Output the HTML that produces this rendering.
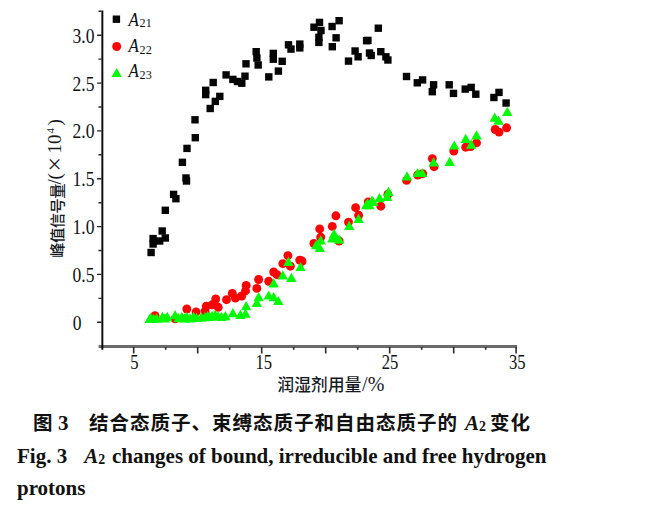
<!DOCTYPE html>
<html lang="zh"><head><meta charset="utf-8"><title>Fig. 3</title>
<style>
html,body{margin:0;padding:0;background:#fff;}
body{width:667px;height:515px;overflow:hidden;position:relative;font-family:"Liberation Serif","Noto Sans CJK SC",serif;color:#111;}
svg{position:absolute;left:0;top:0;}
.tk{font-family:"Liberation Serif",serif;font-size:20.5px;fill:#111;}
.cj{font-family:"Liberation Serif","Noto Sans CJK SC",sans-serif;fill:#16191f;font-weight:500;}
.cap{position:absolute;left:17px;white-space:nowrap;font-weight:bold;color:#111;}
.cap1{top:410.5px;left:0;font-size:19.5px;letter-spacing:1px;line-height:26px;font-family:"Liberation Serif","Noto Sans CJK SC",sans-serif;}
.cap2{top:444px;font-size:21px;font-family:"Liberation Serif",serif;}
.cap3{top:476px;font-size:21px;font-family:"Liberation Serif",serif;}
.cap1 span{position:absolute;top:0;}
.cap1 span.lt{font-family:"Liberation Serif",serif;font-size:21px;letter-spacing:0;top:-0.5px;}
.cap sub{font-size:0.66em;vertical-align:baseline;position:relative;top:0.09em;}
.cap i{font-style:italic;}
</style></head><body>
<svg width="667" height="515" viewBox="0 0 667 515">
<path d="M98.6 346.5H517.1" fill="none" stroke="#6a6a6a" stroke-width="2.8"/><path d="M102.35 10.6V349.8" fill="none" stroke="#0a0a0a" stroke-width="1.95"/>
<path d="M101.5 322.3h-4.4M101.5 298.4h-3M101.5 274.4h-4.4M101.5 250.5h-3M101.5 226.6h-4.4M101.5 202.7h-3M101.5 178.8h-4.4M101.5 154.8h-3M101.5 130.9h-4.4M101.5 107.0h-3M101.5 83.1h-4.4M101.5 59.1h-3M101.5 35.2h-4.4M101.5 11.3h-3" fill="none" stroke="#222" stroke-width="1.4"/><path d="M133.7 347V353.5M165.7 347V349.8M197.7 347V353.5M229.7 347V349.8M261.7 347V353.5M293.7 347V349.8M325.7 347V353.5M357.7 347V349.8M389.7 347V353.5M421.7 347V349.8M453.7 347V353.5M485.7 347V349.8M516.1 347V353.5" fill="none" stroke="#2c2c2c" stroke-width="1.6"/>
<g class="tk"><text transform="translate(72.7,329.8) scale(0.855,1)">0</text><text transform="translate(94.4,281.9) scale(0.855,1)" text-anchor="end">0.5</text><text transform="translate(94.4,234.1) scale(0.855,1)" text-anchor="end">1.0</text><text transform="translate(94.4,186.2) scale(0.855,1)" text-anchor="end">1.5</text><text transform="translate(94.4,138.4) scale(0.855,1)" text-anchor="end">2.0</text><text transform="translate(94.4,90.6) scale(0.855,1)" text-anchor="end">2.5</text><text transform="translate(94.4,42.7) scale(0.855,1)" text-anchor="end">3.0</text><text transform="translate(134.3,369) scale(0.83,1)" font-size="20" text-anchor="middle">5</text><text transform="translate(263.8,369) scale(0.83,1)" font-size="20" text-anchor="middle">15</text><text transform="translate(390.1,369) scale(0.83,1)" font-size="20" text-anchor="middle">25</text><text transform="translate(517.3,369) scale(0.83,1)" font-size="20" text-anchor="middle">35</text></g>
<text class="cj" font-size="15.3" letter-spacing="-0.55" transform="translate(62.6,257.8) rotate(-90)">峰值信号量<tspan font-size="19" x="73.4" dy="-1.6" letter-spacing="0">/</tspan><tspan font-size="19" x="78.4">(</tspan><tspan font-size="26" x="86.3" dy="1.8">×</tspan><tspan font-size="19" x="104.3" dy="-1.8" letter-spacing="0">10</tspan><tspan font-size="11" x="124.3" dy="-7">4</tspan><tspan font-size="19" x="132.4" dy="7">)</tspan></text>
<text class="cj" font-size="16.6" x="277.5" y="391.3" letter-spacing="0.2">润湿剂用量<tspan font-size="20" dx="0.5">/%</tspan></text>
<g fill="#050505"><rect x="147.4" y="248.8" width="7.4" height="7.4"/><rect x="149.4" y="240.3" width="7.4" height="7.4"/><rect x="149.4" y="234.9" width="7.4" height="7.4"/><rect x="156.0" y="237.3" width="7.4" height="7.4"/><rect x="161.6" y="234.3" width="7.4" height="7.4"/><rect x="158.5" y="227.3" width="7.4" height="7.4"/><rect x="161.6" y="206.6" width="7.4" height="7.4"/><rect x="169.9" y="190.7" width="7.4" height="7.4"/><rect x="172.2" y="195.0" width="7.4" height="7.4"/><rect x="182.3" y="174.3" width="7.4" height="7.4"/><rect x="182.8" y="177.3" width="7.4" height="7.4"/><rect x="178.7" y="158.6" width="7.4" height="7.4"/><rect x="183.3" y="144.7" width="7.4" height="7.4"/><rect x="191.6" y="134.0" width="7.4" height="7.4"/><rect x="191.3" y="116.1" width="7.4" height="7.4"/><rect x="206.5" y="104.8" width="7.4" height="7.4"/><rect x="211.6" y="97.7" width="7.4" height="7.4"/><rect x="216.1" y="92.7" width="7.4" height="7.4"/><rect x="202.0" y="90.9" width="7.4" height="7.4"/><rect x="202.0" y="86.6" width="7.4" height="7.4"/><rect x="209.5" y="78.8" width="7.4" height="7.4"/><rect x="222.4" y="71.2" width="7.4" height="7.4"/><rect x="229.2" y="75.7" width="7.4" height="7.4"/><rect x="233.8" y="77.8" width="7.4" height="7.4"/><rect x="238.1" y="79.5" width="7.4" height="7.4"/><rect x="241.3" y="72.5" width="7.4" height="7.4"/><rect x="242.3" y="60.1" width="7.4" height="7.4"/><rect x="252.5" y="48.0" width="7.4" height="7.4"/><rect x="253.2" y="54.3" width="7.4" height="7.4"/><rect x="254.5" y="61.3" width="7.4" height="7.4"/><rect x="265.1" y="73.2" width="7.4" height="7.4"/><rect x="274.7" y="67.4" width="7.4" height="7.4"/><rect x="269.6" y="49.7" width="7.4" height="7.4"/><rect x="269.6" y="55.5" width="7.4" height="7.4"/><rect x="278.5" y="57.6" width="7.4" height="7.4"/><rect x="284.8" y="41.1" width="7.4" height="7.4"/><rect x="287.3" y="45.4" width="7.4" height="7.4"/><rect x="296.1" y="40.4" width="7.4" height="7.4"/><rect x="296.1" y="44.2" width="7.4" height="7.4"/><rect x="310.3" y="23.5" width="7.4" height="7.4"/><rect x="315.8" y="18.7" width="7.4" height="7.4"/><rect x="317.3" y="26.8" width="7.4" height="7.4"/><rect x="315.2" y="33.6" width="7.4" height="7.4"/><rect x="315.2" y="38.7" width="7.4" height="7.4"/><rect x="328.4" y="22.8" width="7.4" height="7.4"/><rect x="335.4" y="17.0" width="7.4" height="7.4"/><rect x="332.4" y="34.1" width="7.4" height="7.4"/><rect x="328.6" y="43.0" width="7.4" height="7.4"/><rect x="344.8" y="57.4" width="7.4" height="7.4"/><rect x="351.4" y="47.3" width="7.4" height="7.4"/><rect x="354.4" y="53.1" width="7.4" height="7.4"/><rect x="364.2" y="36.7" width="7.4" height="7.4"/><rect x="362.9" y="37.0" width="7.4" height="7.4"/><rect x="365.8" y="49.3" width="7.4" height="7.4"/><rect x="367.5" y="51.8" width="7.4" height="7.4"/><rect x="374.6" y="24.5" width="7.4" height="7.4"/><rect x="377.1" y="48.0" width="7.4" height="7.4"/><rect x="382.2" y="53.1" width="7.4" height="7.4"/><rect x="384.2" y="56.3" width="7.4" height="7.4"/><rect x="402.8" y="72.8" width="7.4" height="7.4"/><rect x="413.6" y="79.1" width="7.4" height="7.4"/><rect x="418.9" y="76.2" width="7.4" height="7.4"/><rect x="429.9" y="81.1" width="7.4" height="7.4"/><rect x="428.6" y="88.0" width="7.4" height="7.4"/><rect x="445.5" y="81.1" width="7.4" height="7.4"/><rect x="449.8" y="89.7" width="7.4" height="7.4"/><rect x="461.5" y="85.4" width="7.4" height="7.4"/><rect x="467.5" y="83.7" width="7.4" height="7.4"/><rect x="472.1" y="90.5" width="7.4" height="7.4"/><rect x="490.2" y="93.8" width="7.4" height="7.4"/><rect x="495.3" y="88.7" width="7.4" height="7.4"/><rect x="502.4" y="99.3" width="7.4" height="7.4"/><rect x="112.7" y="15.5" width="7.4" height="7.4"/></g>
<g fill="#fd0303"><circle cx="506.6" cy="127.8" r="4.45"/><circle cx="495.2" cy="129.5" r="4.45"/><circle cx="499.0" cy="132.1" r="4.45"/><circle cx="476.5" cy="142.9" r="4.45"/><circle cx="465.7" cy="147.2" r="4.45"/><circle cx="470.7" cy="146.5" r="4.45"/><circle cx="453.8" cy="151.0" r="4.45"/><circle cx="432.3" cy="158.6" r="4.45"/><circle cx="434.1" cy="166.7" r="4.45"/><circle cx="422.7" cy="173.7" r="4.45"/><circle cx="417.7" cy="175.0" r="4.45"/><circle cx="406.6" cy="180.4" r="4.45"/><circle cx="387.9" cy="194.3" r="4.45"/><circle cx="380.8" cy="206.2" r="4.45"/><circle cx="368.2" cy="201.9" r="4.45"/><circle cx="355.6" cy="207.7" r="4.45"/><circle cx="335.9" cy="215.8" r="4.45"/><circle cx="358.6" cy="215.3" r="4.45"/><circle cx="348.5" cy="222.1" r="4.45"/><circle cx="332.3" cy="226.4" r="4.45"/><circle cx="319.7" cy="228.9" r="4.45"/><circle cx="320.7" cy="237.2" r="4.45"/><circle cx="313.9" cy="243.5" r="4.45"/><circle cx="339.1" cy="241.0" r="4.45"/><circle cx="301.3" cy="260.7" r="4.45"/><circle cx="287.9" cy="255.6" r="4.45"/><circle cx="299.7" cy="260.1" r="4.45"/><circle cx="302.0" cy="261.4" r="4.45"/><circle cx="277.0" cy="274.7" r="4.45"/><circle cx="282.8" cy="263.6" r="4.45"/><circle cx="290.4" cy="266.2" r="4.45"/><circle cx="273.7" cy="272.0" r="4.45"/><circle cx="258.6" cy="279.5" r="4.45"/><circle cx="268.7" cy="281.3" r="4.45"/><circle cx="246.2" cy="285.4" r="4.45"/><circle cx="256.8" cy="288.4" r="4.45"/><circle cx="245.5" cy="290.9" r="4.45"/><circle cx="232.3" cy="293.4" r="4.45"/><circle cx="241.7" cy="296.0" r="4.45"/><circle cx="235.4" cy="298.0" r="4.45"/><circle cx="215.7" cy="299.0" r="4.45"/><circle cx="226.5" cy="299.7" r="4.45"/><circle cx="212.1" cy="304.8" r="4.45"/><circle cx="206.3" cy="306.1" r="4.45"/><circle cx="218.2" cy="307.3" r="4.45"/><circle cx="205.1" cy="311.1" r="4.45"/><circle cx="186.8" cy="309.0" r="4.45"/><circle cx="196.1" cy="311.9" r="4.45"/><circle cx="175.1" cy="318.9" r="4.45"/><circle cx="155.0" cy="315.6" r="4.45"/><circle cx="116.7" cy="46.5" r="4.45"/></g>
<g fill="#05fb05"><path d="M507.3 106.8L512.5 116.0L502.1 116.0Z"/><path d="M494.7 112.6L499.9 121.8L489.5 121.8Z"/><path d="M498.5 115.6L503.7 124.8L493.3 124.8Z"/><path d="M476.5 130.3L481.7 139.5L471.3 139.5Z"/><path d="M465.7 133.8L470.9 143.0L460.5 143.0Z"/><path d="M471.2 139.6L476.4 148.8L466.0 148.8Z"/><path d="M454.3 140.4L459.5 149.6L449.1 149.6Z"/><path d="M449.7 156.8L454.9 166.0L444.5 166.0Z"/><path d="M433.6 157.3L438.8 166.5L428.4 166.5Z"/><path d="M422.2 167.9L427.4 177.1L417.0 177.1Z"/><path d="M417.7 167.9L422.9 177.1L412.5 177.1Z"/><path d="M407.0 171.2L412.2 180.4L401.8 180.4Z"/><path d="M388.4 186.7L393.6 195.9L383.2 195.9Z"/><path d="M387.1 191.7L392.3 200.9L381.9 200.9Z"/><path d="M379.5 193.0L384.7 202.2L374.3 202.2Z"/><path d="M372.0 195.5L377.2 204.7L366.8 204.7Z"/><path d="M367.7 198.5L372.9 207.7L362.5 207.7Z"/><path d="M369.4 200.1L374.6 209.3L364.2 209.3Z"/><path d="M366.2 200.1L371.4 209.3L361.0 209.3Z"/><path d="M373.2 196.8L378.4 206.0L368.0 206.0Z"/><path d="M335.4 232.1L340.6 241.3L330.2 241.3Z"/><path d="M358.6 213.7L363.8 222.9L353.4 222.9Z"/><path d="M349.2 220.8L354.4 230.0L344.0 230.0Z"/><path d="M334.1 228.8L339.3 238.0L328.9 238.0Z"/><path d="M332.3 233.4L337.5 242.6L327.1 242.6Z"/><path d="M339.1 234.6L344.3 243.8L333.9 243.8Z"/><path d="M320.7 235.3L325.9 244.5L315.5 244.5Z"/><path d="M316.2 240.1L321.4 249.3L311.0 249.3Z"/><path d="M319.8 242.9L325.0 252.1L314.6 252.1Z"/><path d="M300.5 261.9L305.7 271.1L295.3 271.1Z"/><path d="M288.4 256.8L293.6 266.0L283.2 266.0Z"/><path d="M282.8 270.2L288.0 279.4L277.6 279.4Z"/><path d="M291.4 272.7L296.6 281.9L286.2 281.9Z"/><path d="M273.7 278.2L278.9 287.4L268.5 287.4Z"/><path d="M258.6 292.1L263.8 301.3L253.4 301.3Z"/><path d="M268.7 290.4L273.9 299.6L263.5 299.6Z"/><path d="M273.7 292.1L278.9 301.3L268.5 301.3Z"/><path d="M278.3 295.9L283.5 305.1L273.1 305.1Z"/><path d="M256.8 297.9L262.0 307.1L251.6 307.1Z"/><path d="M246.2 301.0L251.4 310.2L241.0 310.2Z"/><path d="M245.5 308.5L250.7 317.7L240.3 317.7Z"/><path d="M232.8 308.0L238.0 317.2L227.6 317.2Z"/><path d="M240.4 309.8L245.6 319.0L235.2 319.0Z"/><path d="M225.3 311.1L230.5 320.3L220.1 320.3Z"/><path d="M215.2 309.8L220.4 319.0L210.0 319.0Z"/><path d="M207.6 311.1L212.8 320.3L202.4 320.3Z"/><path d="M201.3 312.3L206.5 321.5L196.1 321.5Z"/><path d="M150.7 312.7L155.9 321.9L145.5 321.9Z"/><path d="M156.6 313.2L161.8 322.4L151.4 322.4Z"/><path d="M162.4 311.7L167.6 320.9L157.2 320.9Z"/><path d="M167.3 311.7L172.5 320.9L162.1 320.9Z"/><path d="M175.1 310.1L180.3 319.3L169.9 319.3Z"/><path d="M181.9 311.7L187.1 320.9L176.7 320.9Z"/><path d="M186.8 311.7L192.0 320.9L181.6 320.9Z"/><path d="M193.6 311.7L198.8 320.9L188.4 320.9Z"/><path d="M196.5 312.7L201.7 321.9L191.3 321.9Z"/><path d="M212.1 310.7L217.3 319.9L206.9 319.9Z"/><path d="M218.0 311.3L223.2 320.5L212.8 320.5Z"/><path d="M149.6 313.9L154.8 323.1L144.4 323.1Z"/><path d="M153.6 313.8L158.8 323.0L148.4 323.0Z"/><path d="M165.0 313.4L170.2 322.6L159.8 322.6Z"/><path d="M178.5 313.1L183.7 322.3L173.3 322.3Z"/><path d="M184.5 313.2L189.7 322.4L179.3 322.4Z"/><path d="M190.0 313.2L195.2 322.4L184.8 322.4Z"/><path d="M205.0 312.1L210.2 321.3L199.8 321.3Z"/><path d="M209.5 311.9L214.7 321.1L204.3 321.1Z"/><path d="M221.5 311.7L226.7 320.9L216.3 320.9Z"/><path d="M116.6 67.9L121.8 77.1L111.4 77.1Z"/></g>
<g class="tk" font-size="20">
<text font-style="italic" font-size="19.5" transform="translate(128.6,25.8) scale(0.87,1)">A</text><text font-size="13.5" transform="translate(139.6,27.4) scale(0.9,1)">21</text>
<text font-style="italic" font-size="19.5" transform="translate(128.6,51.9) scale(0.87,1)">A</text><text font-size="13.5" transform="translate(139.6,53.5) scale(0.9,1)">22</text>
<text font-style="italic" font-size="19.5" transform="translate(128.6,77.4) scale(0.87,1)">A</text><text font-size="13.5" transform="translate(139.6,79.0) scale(0.9,1)">23</text>
</g>
</svg>
<div class="cap cap1"><span style="left:33px">图</span><span class="lt" style="left:58px">3</span><span style="left:89px">结合态质子、束缚态质子和自由态质子的</span><span class="lt" style="left:465px"><i>A</i><sub>2</sub></span><span style="left:490px">变化</span></div>
<div class="cap cap2">Fig. 3<span style="display:inline-block;width:17px"></span><i>A</i><sub>2</sub><span style="display:inline-block;width:1.5px"></span> changes of bound, irreducible and free hydrogen</div>
<div class="cap cap3">protons</div>
</body></html>
